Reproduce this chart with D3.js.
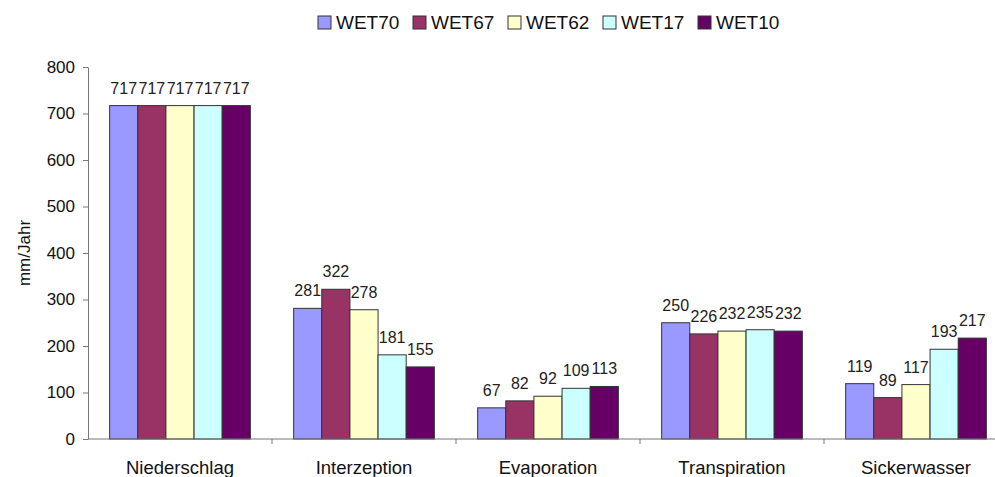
<!DOCTYPE html>
<html>
<head>
<meta charset="utf-8">
<script src="https://cdn.jsdelivr.net/npm/d3@7"></script>
<style>
  html, body { margin: 0; padding: 0; background: #fff; overflow: hidden; }
  svg { display: block; font-family: "Liberation Sans", Arial, sans-serif; }
</style>
</head>
<body>
<svg id="chart" width="995" height="477"></svg>
<script>
// Water balance components per stand type (mm/Jahr)
const categories = ["Niederschlag", "Interzeption", "Evaporation", "Transpiration", "Sickerwasser"];
const seriesNames = ["WET70", "WET67", "WET62", "WET17", "WET10"];
const WET70 = [717, 281, 67, 250, 119];
const WET67 = [717, 322, 82, 226, 89];
const WET62 = [717, 278, 92, 232, 117];
const WET17 = [717, 181, 109, 235, 193];
const WET10 = [717, 155, 113, 232, 217];
const seriesValues = [WET70, WET67, WET62, WET17, WET10];
const colors = ["#9999FF", "#993366", "#FFFFCC", "#CCFFFF", "#660066"];
const yTicks = [0, 100, 200, 300, 400, 500, 600, 700, 800];

const svg = d3.select("#chart");
const margin = { left: 88, top: 67, bottom: 439 };
const catWidth = 184;

const x = d3.scaleBand()
  .domain(categories)
  .range([margin.left, margin.left + catWidth * categories.length])
  .paddingInner(0.2353)
  .paddingOuter(0.1176);
const xs = d3.scaleBand().domain(seriesNames).range([0, x.bandwidth()]);
const y = d3.scaleLinear().domain([0, 800]).range([margin.bottom, margin.top]);

// Bars
const groups = svg.append("g").selectAll("g")
  .data(categories)
  .join("g")
  .attr("transform", c => `translate(${x(c)},0)`);

groups.selectAll("rect")
  .data((c, ci) => seriesNames.map((s, si) => ({ s, si, v: seriesValues[si][ci] })))
  .join("rect")
  .attr("x", d => xs(d.s))
  .attr("y", d => y(d.v))
  .attr("width", xs.bandwidth())
  .attr("height", d => y(0) - y(d.v))
  .attr("fill", d => colors[d.si])
  .attr("stroke", "#333")
  .attr("stroke-width", 1);

groups.selectAll("text")
  .data((c, ci) => seriesNames.map((s, si) => ({ s, si, v: seriesValues[si][ci] })))
  .join("text")
  .attr("x", d => xs(d.s) + xs.bandwidth() / 2)
  .attr("y", d => y(d.v) - 12)
  .attr("text-anchor", "middle")
  .attr("font-size", 16)
  .attr("fill", "#222")
  .text(d => d.v);

// Y axis
const yAxis = svg.append("g")
  .attr("transform", `translate(${margin.left},0)`)
  .call(d3.axisLeft(y).tickValues(yTicks).tickSize(5).tickSizeOuter(0).tickPadding(8));
yAxis.select(".domain").attr("stroke", "#777");
yAxis.selectAll(".tick line").attr("stroke", "#777");
yAxis.selectAll(".tick text").attr("font-size", 17).attr("fill", "#111")
  .attr("font-family", "Liberation Sans, Arial, sans-serif");

// X axis with ticks between categories
const xAxisG = svg.append("g").attr("transform", `translate(0,${margin.bottom})`);
xAxisG.append("line")
  .attr("x1", margin.left).attr("x2", margin.left + catWidth * categories.length)
  .attr("stroke", "#777");
xAxisG.selectAll("line.sep")
  .data(d3.range(1, categories.length + 1))
  .join("line")
  .attr("class", "sep")
  .attr("x1", i => margin.left + i * catWidth).attr("x2", i => margin.left + i * catWidth)
  .attr("y1", 0).attr("y2", 5)
  .attr("stroke", "#777");
xAxisG.selectAll("text")
  .data(categories)
  .join("text")
  .attr("x", c => x(c) + x.bandwidth() / 2)
  .attr("y", 35)
  .attr("text-anchor", "middle")
  .attr("font-size", 18.5)
  .attr("fill", "#111")
  .text(c => c);

// Y axis title
svg.append("text")
  .attr("transform", `translate(30,253) rotate(-90)`)
  .attr("text-anchor", "middle")
  .attr("font-size", 17)
  .attr("fill", "#111")
  .text("mm/Jahr");

// Legend
const legend = svg.append("g").selectAll("g")
  .data(seriesNames)
  .join("g")
  .attr("transform", (d, i) => `translate(${318 + i * 95},16)`);
legend.append("rect")
  .attr("width", 13).attr("height", 13)
  .attr("fill", (d, i) => colors[i])
  .attr("stroke", "#333");
legend.append("text")
  .attr("x", 18).attr("y", 13)
  .attr("font-size", 19)
  .attr("fill", "#111")
  .text(d => d);
</script>
</body>
</html>
